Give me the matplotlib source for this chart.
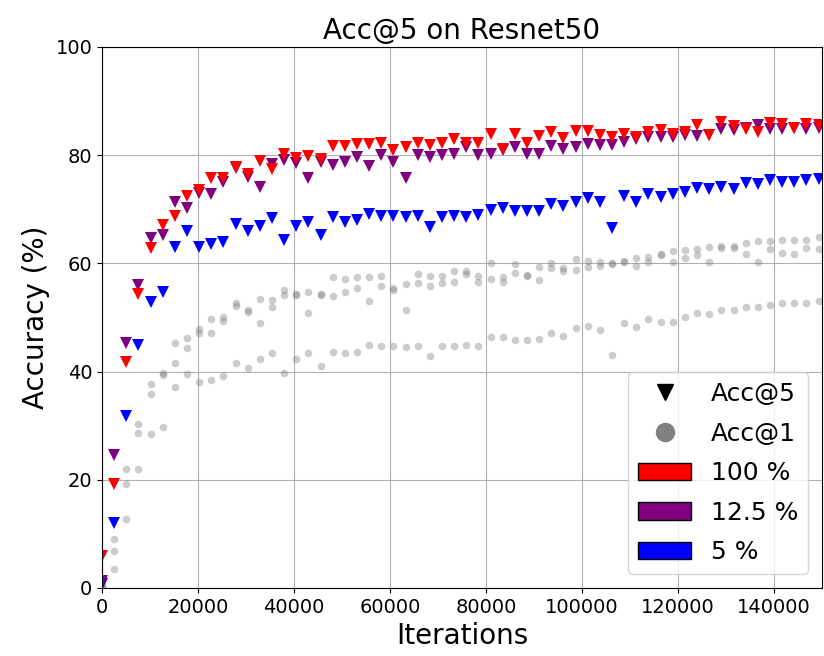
import numpy as np
import matplotlib
matplotlib.use("Agg")
import matplotlib.pyplot as plt
from matplotlib.lines import Line2D
from matplotlib.patches import Patch

# evaluation every ~2530 iterations, 60 evaluations
iters = np.arange(60) * 2530

acc5_100 = [5.9, 19.3, 41.8, 54.3, 62.8, 67.1, 68.8, 72.5, 73.6, 75.8,
            75.8, 77.9, 76.6, 79.0, 77.4, 80.2, 79.4, 79.9, 79.3, 81.7,
            81.7, 82.0, 82.0, 82.3, 81.0, 81.6, 82.2, 81.9, 82.3, 82.9,
            82.3, 82.2, 83.9, 81.1, 83.9, 82.3, 83.5, 84.2, 83.1, 84.5,
            84.5, 83.7, 83.4, 84.0, 83.3, 84.3, 84.7, 83.9, 84.2, 85.6,
            83.7, 86.2, 85.4, 84.9, 84.2, 85.9, 85.8, 85.0, 85.7, 85.5]
acc5_12 = [1.2, 24.6, 45.3, 56.0, 64.6, 65.2, 71.4, 70.3, 73.0, 72.8,
           75.0, 77.6, 76.0, 74.2, 78.4, 79.1, 78.5, 75.8, 78.8, 78.2,
           78.8, 79.7, 78.0, 80.0, 78.8, 75.8, 80.0, 79.6, 80.0, 80.3,
           81.6, 80.0, 80.3, 81.0, 81.5, 80.3, 80.2, 81.7, 81.1, 81.5,
           82.1, 81.9, 81.9, 82.5, 83.0, 83.3, 83.3, 83.4, 83.7, 83.5,
           83.7, 84.8, 84.7, 85.0, 85.6, 84.8, 84.8, 85.0, 84.8, 85.0]
acc5_5 = [0.8, 12.1, 31.7, 44.9, 52.9, 54.8, 63.0, 65.9, 63.0, 63.6,
          64.0, 67.3, 65.9, 66.9, 68.3, 64.4, 66.9, 67.7, 65.2, 68.5,
          67.7, 68.0, 69.1, 68.8, 68.8, 68.5, 68.8, 66.8, 68.5, 68.7,
          68.5, 68.9, 69.9, 70.2, 69.7, 69.6, 69.7, 71.0, 70.6, 71.4,
          72.0, 71.4, 66.5, 72.5, 71.4, 72.8, 72.2, 72.8, 73.1, 73.9,
          73.7, 74.2, 73.7, 74.8, 74.6, 75.4, 75.1, 75.0, 75.5, 75.6]

acc1_100 = [0.6, 9.0, 21.9, 30.3, 37.7, 39.8, 45.2, 46.2, 47.8, 49.7,
            50.1, 52.6, 51.3, 53.4, 53.2, 55.0, 54.3, 54.8, 54.4, 57.4,
            57.1, 57.4, 57.4, 57.7, 55.4, 56.1, 58.0, 57.7, 57.7, 58.5,
            58.5, 57.7, 60.1, 57.4, 59.9, 57.8, 59.4, 60.1, 59.1, 60.8,
            60.5, 60.3, 60.1, 60.4, 61.0, 61.2, 61.8, 62.2, 62.4, 62.6,
            63.1, 63.2, 63.2, 63.7, 64.2, 64.2, 64.4, 64.4, 64.4, 64.8]
acc1_12 = [0.4, 6.8, 19.2, 28.7, 35.8, 39.4, 41.6, 44.4, 47.1, 47.2,
           49.4, 52.1, 51.1, 49.0, 52.0, 54.2, 54.1, 50.9, 54.2, 53.9,
           54.8, 55.5, 53.1, 55.8, 55.1, 51.3, 56.3, 55.8, 56.3, 56.6,
           58.0, 56.6, 57.1, 56.6, 58.2, 57.6, 56.9, 59.1, 58.5, 58.8,
           59.4, 59.5, 59.9, 60.2, 59.5, 60.3, 61.6, 60.3, 61.0, 61.6,
           60.3, 62.8, 62.8, 61.7, 60.3, 62.6, 62.0, 61.7, 62.8, 62.6]
acc1_5 = [0.2, 3.5, 12.7, 21.9, 28.5, 29.8, 37.1, 39.6, 38.1, 38.4,
          39.1, 41.6, 40.6, 42.3, 43.4, 39.8, 42.3, 43.4, 41.0, 43.7,
          43.4, 43.6, 44.9, 44.7, 44.7, 44.5, 44.7, 42.9, 44.7, 44.7,
          44.9, 44.7, 46.3, 46.3, 45.8, 45.8, 46.1, 47.2, 46.6, 48.0,
          48.4, 47.7, 43.1, 49.0, 48.2, 49.8, 49.2, 49.2, 50.0, 50.9,
          50.6, 51.3, 51.3, 52.0, 52.0, 52.3, 52.6, 52.7, 52.7, 53.1]

fig = plt.figure(figsize=(8.24, 6.56), dpi=100)
ax = fig.add_axes([0.1238, 0.1037, 0.8738, 0.8247])

for acc1 in (acc1_5, acc1_12, acc1_100):
    ax.plot(iters, acc1, 'o', color='grey', alpha=0.4, ms=5.5, mew=0)

ax.plot(iters, acc5_5, 'v', color='blue', ms=9, mew=0)
ax.plot(iters, acc5_12, 'v', color='purple', ms=9, mew=0)
ax.plot(iters, acc5_100, 'v', color='red', ms=9, mew=0)

ax.set_xlim(0, 150000)
ax.set_ylim(0, 100)
ax.grid(True)
ax.tick_params(labelsize=14)
ax.set_xlabel('Iterations', fontsize=20)
ax.set_ylabel('Accuracy (%)', fontsize=20)
ax.set_title('Acc@5 on Resnet50', fontsize=20)

handles = [
    Line2D([], [], marker='v', color='black', ls='None', ms=11),
    Line2D([], [], marker='o', color='grey', ls='None', ms=13),
    Patch(facecolor='red', edgecolor='black'),
    Patch(facecolor='purple', edgecolor='black'),
    Patch(facecolor='blue', edgecolor='black'),
]
labels = ['Acc@5', 'Acc@1', '100 %', '12.5 %', '5 %']
ax.legend(handles, labels, loc='lower right', fontsize=18,
          labelspacing=0.62, handlelength=2.1, borderaxespad=0.55)

fig.savefig('out.png', dpi=100)
